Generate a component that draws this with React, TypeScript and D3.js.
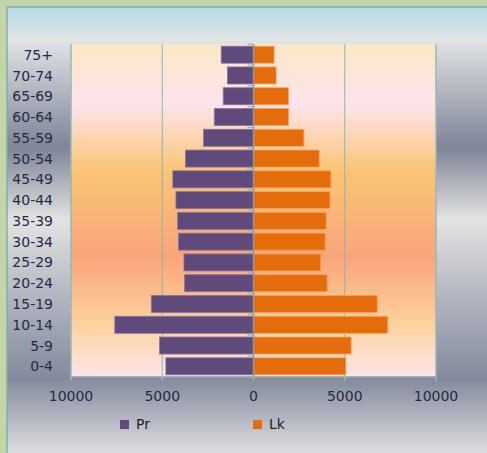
import React, { useRef, useEffect } from 'react';
import * as d3 from 'd3';

// Age groups, bottom to top
const ageGroups = ['0-4', '5-9', '10-14', '15-19', '20-24', '25-29', '30-34', '35-39',
  '40-44', '45-49', '50-54', '55-59', '60-64', '65-69', '70-74', '75+'];
const prValues = [4800, 5150, 7600, 5600, 3780, 3810, 4110, 4160, 4250, 4420, 3730, 2740, 2150, 1660, 1430, 1770];
const lkValues = [5060, 5350, 7360, 6780, 4040, 3690, 3930, 3980, 4190, 4240, 3600, 2760, 1920, 1920, 1240, 1130];
const xTicks = [-10000, -5000, 0, 5000, 10000];
const seriesNames = ['Pr', 'Lk'];
const seriesColors = ['#5f4a7b', '#e46c0a'];
const seriesStrokes = ['#8a76a0', '#f4a463'];

const App = () => {
  const chartRef = useRef<SVGSVGElement | null>(null);

  useEffect(() => {
    const svg = d3.select(chartRef.current);
    svg.selectAll('*').remove();

    const width = 487;
    const height = 453;
    const plot = { left: 71, right: 436, top: 44.3, bottom: 376.7 };
    const textColor = '#1f2b45';
    const font = 'DejaVu Sans, Verdana, sans-serif';

    const defs = svg.append('defs');

    // chart area "chrome" gradient
    const chrome = defs.append('linearGradient')
      .attr('id', 'chrome').attr('x1', 0).attr('y1', 0).attr('x2', 0).attr('y2', 1);
    [
      [0, '#b2dbe6'], [0.07, '#e2e4e6'], [0.31, '#7f8597'], [0.47, '#e3e3e3'],
      [0.64, '#b3b6c0'], [0.82, '#848a9c'], [1, '#e6e6e8'],
    ].forEach(([o, c]) => chrome.append('stop').attr('offset', o as number).attr('stop-color', c as string));

    // plot area warm gradient
    const warm = defs.append('linearGradient')
      .attr('id', 'warm').attr('x1', 0).attr('y1', 0).attr('x2', 0).attr('y2', 1);
    [
      [0, '#fbe8c6'], [0.18, '#fde4ec'], [0.38, '#fac574'], [0.64, '#f9a57b'],
      [0.84, '#fcd29c'], [1, '#fde5ea'],
    ].forEach(([o, c]) => warm.append('stop').attr('offset', o as number).attr('stop-color', c as string));

    // Background
    svg.append('rect').attr('width', width).attr('height', height).attr('fill', '#c4d5aa');
    svg.append('rect')
      .attr('x', 7).attr('y', 7).attr('width', width).attr('height', height)
      .attr('fill', 'url(#chrome)')
      .attr('stroke', '#86aea6').attr('stroke-width', 1.5);

    svg.append('rect')
      .attr('x', plot.left).attr('y', plot.top)
      .attr('width', plot.right - plot.left).attr('height', plot.bottom - plot.top)
      .attr('fill', 'url(#warm)');

    // Scales
    const x = d3.scaleLinear().domain([-10000, 10000]).range([plot.left, plot.right]);
    const y = d3.scaleBand()
      .domain([...ageGroups].reverse())
      .range([plot.top, plot.bottom])
      .paddingInner(0.18)
      .paddingOuter(0.09);

    // Gridlines
    svg.append('g').selectAll('line')
      .data(xTicks.filter(t => Math.abs(t) === 5000))
      .enter().append('line')
      .attr('x1', d => x(d)).attr('x2', d => x(d))
      .attr('y1', plot.top).attr('y2', plot.bottom)
      .attr('stroke', '#8fb2b0').attr('stroke-width', 1);

    // Plot frame (left, right, bottom)
    svg.append('path')
      .attr('d', `M${plot.left},${plot.top}V${plot.bottom}H${plot.right}V${plot.top}`)
      .attr('fill', 'none').attr('stroke', '#9ab8b6').attr('stroke-width', 1.5);

    // Bottom tick marks
    svg.append('g').selectAll('line')
      .data(xTicks)
      .enter().append('line')
      .attr('x1', d => x(d)).attr('x2', d => x(d))
      .attr('y1', plot.bottom).attr('y2', plot.bottom + 4)
      .attr('stroke', '#9ab8b6').attr('stroke-width', 1.5);

    // Bars
    const series = [
      prValues.map((v, i) => ({ age: ageGroups[i], v: -v })),
      lkValues.map((v, i) => ({ age: ageGroups[i], v })),
    ];
    series.forEach((data, si) => {
      svg.append('g').selectAll('rect')
        .data(data)
        .enter().append('rect')
        .attr('x', d => Math.min(x(0), x(d.v)))
        .attr('width', d => Math.abs(x(d.v) - x(0)))
        .attr('y', d => y(d.age) as number)
        .attr('height', y.bandwidth())
        .attr('fill', seriesColors[si])
        .attr('stroke', seriesStrokes[si])
        .attr('stroke-width', 0.8);
    });

    // Category axis at zero with tick marks between bands
    const step = y.step();
    const boundaries = d3.range(ageGroups.length + 1).map(i => plot.top + i * step);
    svg.append('g').selectAll('line')
      .data(boundaries)
      .enter().append('line')
      .attr('x1', x(0) - 6).attr('x2', x(0))
      .attr('y1', d => d).attr('y2', d => d)
      .attr('stroke', '#9fb2b4').attr('stroke-width', 1.2);
    svg.append('line')
      .attr('x1', x(0)).attr('x2', x(0))
      .attr('y1', plot.top).attr('y2', plot.bottom)
      .attr('stroke', '#8b9ca6').attr('stroke-width', 1.5);

    // Category labels
    svg.append('g').selectAll('text')
      .data(ageGroups)
      .enter().append('text')
      .attr('x', 53)
      .attr('y', d => (y(d) as number) + y.bandwidth() / 2)
      .attr('dy', '0.36em')
      .attr('text-anchor', 'end')
      .attr('font-family', font).attr('font-size', 14)
      .attr('fill', textColor)
      .text(d => d);

    // Value axis labels
    svg.append('g').selectAll('text')
      .data(xTicks)
      .enter().append('text')
      .attr('x', d => x(d))
      .attr('y', 400.5)
      .attr('text-anchor', 'middle')
      .attr('font-family', font).attr('font-size', 14)
      .attr('fill', textColor)
      .text(d => String(Math.abs(d)));

    // Legend
    const legendX = [120, 253];
    const legend = svg.append('g').selectAll('g')
      .data(seriesNames)
      .enter().append('g')
      .attr('transform', (d, i) => `translate(${legendX[i]},420)`);
    legend.append('rect')
      .attr('width', 9).attr('height', 9)
      .attr('fill', (d, i) => seriesColors[i]);
    legend.append('text')
      .attr('x', 16).attr('y', 8.5)
      .attr('font-family', font).attr('font-size', 14)
      .attr('fill', '#222')
      .text(d => d);
  }, []);

  return (
    <svg
      ref={chartRef}
      width={487}
      height={453}
      style={{ position: 'absolute', left: 0, top: 0, display: 'block' }}
    />
  );
};

export default App;
